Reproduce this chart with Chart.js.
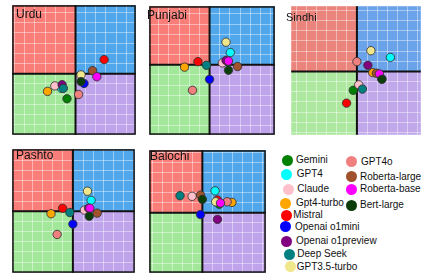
<!DOCTYPE html>
<html><head><meta charset="utf-8">
<script src="https://cdn.jsdelivr.net/npm/chart.js@4.4.0/dist/chart.umd.min.js"></script>
<style>
html,body{margin:0;padding:0;background:#fff;width:429px;height:278px;overflow:hidden;font-family:"Liberation Sans",Arial,sans-serif;}
canvas{position:absolute;}
.title{position:absolute;font-size:12px;line-height:12px;color:#111;white-space:nowrap;}
.dot{position:absolute;width:11px;height:11px;border-radius:50%;}
.lab{position:absolute;font-size:10px;line-height:12px;color:#111;white-space:nowrap;}
</style></head><body>
<script>
// ---- data ----
const models = ['Gemini','GPT4','Claude','Gpt4-turbo','Mistral','Openai o1mini','Openai o1preview','Deep Seek','GPT3.5-turbo','GPT4o','Roberta-large','Roberta-base','Bert-large'];
const modelColors = ['#008000','#00FFFF','#FFC0CB','#FFA500','#FF0000','#0000FF','#800080','#008080','#F0E68C','#F08080','#A0522D','#FF00FF','#0B3D0B'];
const languages = ['Urdu','Punjabi','Sindhi','Pashto','Balochi'];

const urduX    = [-0.14,-0.23,-0.34,-0.46, 0.47, 0.14,-0.22,-0.20, 0.09, 0.05, 0.28, 0.35, 0.09];
const urduY    = [-0.41,-0.24,-0.20,-0.29, 0.23,-0.16,-0.18,-0.24,-0.02,-0.34, 0.05,-0.05,-0.13];
const punjabiX = [ 0.30, 0.34, 0.21,-0.41,-0.19, 0.00, 0.27,-0.05, 0.27,-0.28, 0.46, 0.31, 0.31];
const punjabiY = [ 0.05, 0.20, 0.03,-0.04, 0.05,-0.24, 0.07,-0.01, 0.37,-0.42,-0.03, 0.06,-0.09];
const sindhiX  = [-0.06, 0.55, 0.03, 0.26,-0.17, 0.41, 0.18, 0.09, 0.23, 0.00, 0.32, 0.37, 0.41];
const sindhiY  = [-0.31, 0.23,-0.22,-0.02,-0.52,-0.12, 0.10,-0.29, 0.34, 0.16,-0.03,-0.04,-0.13];
const pashtoX  = [ 0.27, 0.30, 0.19,-0.36,-0.17, 0.00, 0.26,-0.05, 0.24,-0.26, 0.40, 0.28, 0.27];
const pashtoY  = [ 0.04, 0.18, 0.02,-0.04, 0.05,-0.21, 0.05,-0.02, 0.33,-0.38,-0.03, 0.05,-0.08];
const balochiX = [ 0.28, 0.21,-0.17, 0.49, 0.25,-0.03, 0.25,-0.37, 0.22, 0.41,-0.03, 0.30, 0.00];
const balochiY = [ 0.14, 0.36, 0.27, 0.17, 0.21,-0.03,-0.11, 0.28, 0.18, 0.18, 0.29, 0.16, 0.22];

const xMin = [-1.04,-0.99,-1.08,-1.00,-0.88];
const xMax = [ 0.99, 1.07, 1.05, 1.02, 1.05];
const yMin = [-1.00,-1.15,-1.04,-1.01,-0.99];
const yMax = [ 1.12, 0.96, 1.07, 1.02, 1.03];
const gridStep = 1/6;

const seriesX = [urduX, punjabiX, sindhiX, pashtoX, balochiX];
const seriesY = [urduY, punjabiY, sindhiY, pashtoY, balochiY];

// ---- layout / style ----
const quadMain   = ['#F97E79','#50A7EC','#A3E79B','#C0A4EB']; // TL, TR, BL, BR
const quadSindhi = ['#EB847C','#6BA3EA','#AEE8A0','#C0A8EA'];
const panelBox = [
  {left:7,   top:0,   w:134, h:140, title:{l:16, t:8.4, fs:12}, border:'#111', quad:quadMain},
  {left:144, top:1,   w:136, h:139, title:{l:147,t:8.6, fs:12}, border:'#111', quad:quadMain},
  {left:286, top:1,   w:140, h:139, title:{l:286,t:10.6,fs:11}, border:null,   quad:quadSindhi},
  {left:7,   top:144, w:133, h:134, title:{l:16, t:149.4,fs:12}, border:'#111', quad:quadMain},
  {left:144, top:145, w:127, h:133, title:{l:150,t:149.7,fs:12}, border:'#111', quad:quadMain}
];

const quadPlugin = {
  id:'quad',
  beforeDraw(chart, args, opts){
    const {ctx, chartArea:a, scales:{x,y}} = chart;
    const q = opts.colors;
    const cx = x.getPixelForValue(0), cy = y.getPixelForValue(0);
    ctx.save();
    ctx.fillStyle = q[0]; ctx.fillRect(a.left, a.top, cx-a.left, cy-a.top);
    ctx.fillStyle = q[1]; ctx.fillRect(cx, a.top, a.right-cx, cy-a.top);
    ctx.fillStyle = q[2]; ctx.fillRect(a.left, cy, cx-a.left, a.bottom-cy);
    ctx.fillStyle = q[3]; ctx.fillRect(cx, cy, a.right-cx, a.bottom-cy);
    ctx.restore();
  },
  beforeDatasetsDraw(chart){
    const {ctx, chartArea:a, scales:{x,y}} = chart;
    const cx = x.getPixelForValue(0), cy = y.getPixelForValue(0);
    ctx.save();
    ctx.strokeStyle = '#111'; ctx.lineWidth = 2;
    ctx.beginPath();
    ctx.moveTo(cx, a.top); ctx.lineTo(cx, a.bottom);
    ctx.moveTo(a.left, cy); ctx.lineTo(a.right, cy);
    ctx.stroke();
    ctx.restore();
  },
  afterDraw(chart, args, opts){
    if(!opts.border) return;
    const {ctx, chartArea:a} = chart;
    ctx.save();
    ctx.strokeStyle = opts.border; ctx.lineWidth = 1.5;
    ctx.strokeRect(a.left+0.75, a.top+0.75, a.right-a.left-1.5, a.bottom-a.top-1.5);
    ctx.restore();
  }
};

function stepTicks(scale){
  const t=[];
  for(let k=Math.ceil(scale.min/gridStep); k*gridStep<=scale.max+1e-9; k++){
    if(k!==0) t.push({value:k*gridStep});
  }
  scale.ticks = t;
}

languages.forEach((lang, p)=>{
  const b = panelBox[p];
  const cv = document.createElement('canvas');
  cv.width = b.w; cv.height = b.h;
  cv.style.left = b.left+'px'; cv.style.top = b.top+'px';
  cv.style.width = b.w+'px'; cv.style.height = b.h+'px';
  document.body.appendChild(cv);

  const datasets = models.map((m,i)=>({
    label:m,
    data:[{x:seriesX[p][i], y:seriesY[p][i]}],
    backgroundColor:modelColors[i],
    borderColor:'rgba(50,50,50,0.85)',
    borderWidth:1,
    pointRadius:4.2,
    order:-i
  }));

  new Chart(cv, {
    type:'scatter',
    data:{datasets},
    options:{
      responsive:false, animation:false, devicePixelRatio:1,
      layout:{padding:0},
      plugins:{legend:{display:false}, tooltip:{enabled:false}, quad:{border:b.border, colors:b.quad}},
      scales:{
        x:{type:'linear', min:xMin[p], max:xMax[p], afterBuildTicks:stepTicks,
           ticks:{display:false}, border:{display:false},
           grid:{color:'rgba(255,255,255,0.42)', lineWidth:1, drawTicks:false}},
        y:{type:'linear', min:yMin[p], max:yMax[p], afterBuildTicks:stepTicks,
           ticks:{display:false}, border:{display:false},
           grid:{color:'rgba(255,255,255,0.42)', lineWidth:1, drawTicks:false}}
      }
    },
    plugins:[quadPlugin]
  });

  const t = document.createElement('div');
  t.className='title'; t.textContent=lang;
  t.style.left=b.title.l+'px'; t.style.top=b.title.t+'px'; t.style.fontSize=b.title.fs+'px';
  document.body.appendChild(t);
});

// ---- legend (HTML) ----
const legendPos = [
  {cx:287.3,cy:160,  tx:296},
  {cx:286,  cy:174.3,tx:296.7},
  {cx:288.5,cy:189,  tx:297.3},
  {cx:285.3,cy:203.3,tx:296},
  {cx:286,  cy:215,  tx:293.3},
  {cx:285.5,cy:226.7,tx:295},
  {cx:286.7,cy:241,  tx:296},
  {cx:289,  cy:254.3,tx:297.3},
  {cx:290,  cy:266.7,tx:296.7},
  {cx:351,  cy:161.7,tx:361},
  {cx:351.3,cy:176.7,tx:360},
  {cx:351,  cy:189.3,tx:360},
  {cx:351,  cy:205,  tx:360}
];
models.forEach((m,i)=>{
  const pos = legendPos[i];
  const d = document.createElement('div');
  d.className='dot'; d.style.background=modelColors[i];
  d.style.left=(pos.cx-5.5)+'px'; d.style.top=(pos.cy-5.5)+'px';
  document.body.appendChild(d);
  const s = document.createElement('div');
  s.className='lab'; s.textContent=m;
  s.style.left=pos.tx+'px'; s.style.top=(pos.cy-6)+'px';
  document.body.appendChild(s);
});
</script>
</body></html>
